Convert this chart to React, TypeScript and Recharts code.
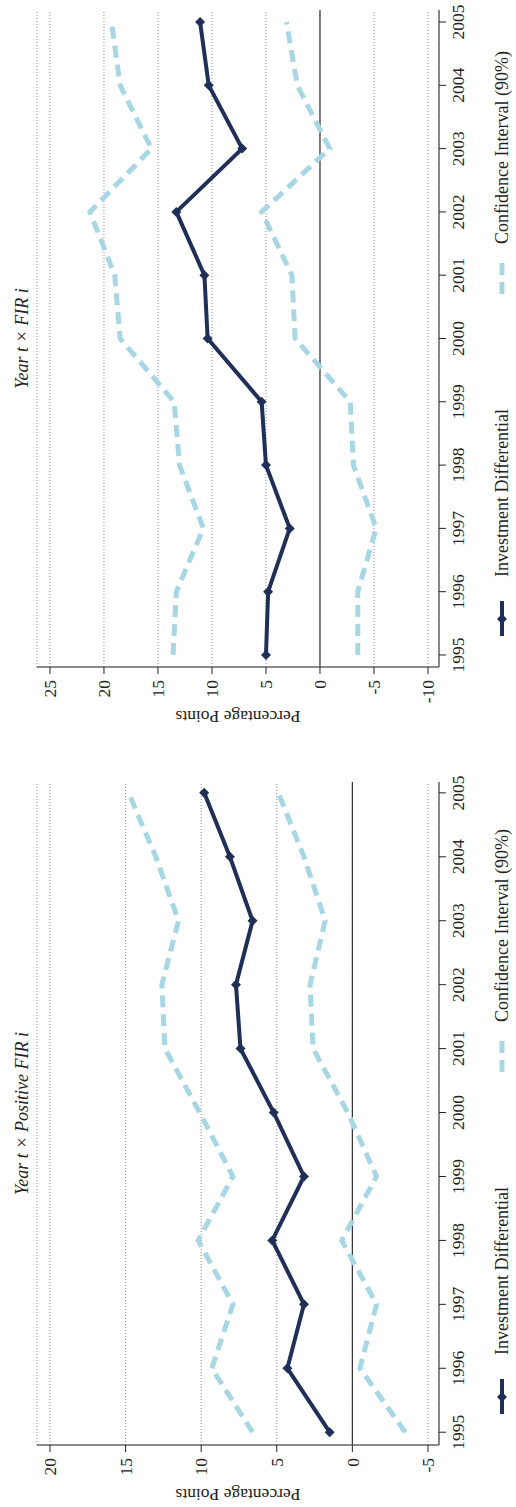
import { CartesianGrid, Line, LineChart, ReferenceLine, XAxis, YAxis } from "recharts";

const years = [1995, 1996, 1997, 1998, 1999, 2000, 2001, 2002, 2003, 2004, 2005];

// Year t x Positive FIR i
const posDiff = [1.5, 4.3, 3.2, 5.3, 3.2, 5.2, 7.4, 7.7, 6.6, 8.1, 9.8];
const posUpper = [6.6, 9.3, 7.9, 10.2, 7.9, 10.1, 12.4, 12.6, 11.5, 13.0, 14.8];
const posLower = [-3.5, -0.5, -1.6, 0.7, -1.6, 0.3, 2.6, 2.8, 1.8, 3.2, 4.9];
const posTicks = [-5, 0, 5, 10, 15, 20];

// Year t x FIR i
const firDiff = [5.0, 4.8, 2.8, 5.0, 5.4, 10.4, 10.7, 13.3, 7.2, 10.3, 11.1];
const firUpper = [13.6, 13.3, 10.8, 13.0, 13.5, 18.5, 19.0, 21.3, 15.6, 18.5, 19.3];
const firLower = [-3.5, -3.5, -5.2, -3.1, -2.8, 2.3, 2.6, 5.4, -0.9, 2.1, 3.1];
const firTicks = [-10, -5, 0, 5, 10, 15, 20, 25];

const legendLabels = ["Investment Differential", "Confidence Interval (90%)"];

const NAVY = "#1f2f57";
const LIGHT = "#a8d7e4";
const FONT = '"Liberation Serif", "DejaVu Serif", serif';
const H = 516;

const Diamond = (props: any) => {
  const { cx, cy, index } = props;
  if (cx == null || cy == null) return null;
  const r = 5;
  return (
    <polygon
      key={`dm-${index}`}
      points={`${cx},${cy - r} ${cx + r},${cy} ${cx},${cy + r} ${cx - r},${cy}`}
      fill={NAVY}
    />
  );
};

type PanelProps = {
  title: string;
  diff: number[];
  upper: number[];
  lower: number[];
  ticks: number[];
  yDomain: [number, number];
  xDomain: [number, number];
  left: number;
  width: number;
  plotLeft: number;
  plotRight: number;
};

function Panel({ title, diff, upper, lower, ticks, yDomain, xDomain, left, width, plotLeft, plotRight }: PanelProps) {
  const rows = years.map((year, i) => ({ year, diff: diff[i], upper: upper[i], lower: lower[i] }));
  const tickStyle = { fill: "#222", fontSize: 17.5, fontFamily: FONT };
  return (
    <div style={{ position: "absolute", left, top: 0, width, height: H }}>
      <LineChart
        width={width}
        height={H}
        data={rows}
        margin={{ top: 37, right: width - plotRight, bottom: 0, left: 0 }}
      >
        <CartesianGrid vertical={false} stroke="#8c8c8c" strokeDasharray="1 2" />
        <XAxis
          dataKey="year"
          type="number"
          domain={xDomain}
          ticks={years}
          interval={0}
          allowDataOverflow
          height={77}
          tickSize={7}
          tickMargin={6}
          axisLine={{ stroke: "#666", strokeWidth: 1.5 }}
          tickLine={{ stroke: "#222" }}
          tick={tickStyle}
        />
        <YAxis
          type="number"
          domain={yDomain}
          ticks={ticks}
          interval={0}
          allowDataOverflow
          width={plotLeft}
          tickSize={7}
          tickMargin={6}
          axisLine={{ stroke: "#666", strokeWidth: 1.5 }}
          tickLine={{ stroke: "#222" }}
          tick={tickStyle}
          label={{
            content: (p: any) => {
              const vb = p.viewBox || { x: 0, y: 37, width: plotLeft, height: 402 };
              const x = vb.x + vb.width - 50;
              const y = vb.y + vb.height / 2;
              return (
                <text
                  x={x}
                  y={y}
                  transform={`rotate(-90 ${x} ${y})`}
                  textAnchor="middle"
                  dominantBaseline="central"
                  fontSize={17.5}
                  fontFamily={FONT}
                  fill="#222"
                >
                  Percentage Points
                </text>
              );
            }
          }}
        />
        <ReferenceLine y={0} stroke="#333" strokeWidth={1.2} />
        <Line
          type="linear"
          dataKey="upper"
          stroke={LIGHT}
          strokeWidth={5}
          strokeDasharray="12 7"
          dot={false}
          isAnimationActive={false}
        />
        <Line
          type="linear"
          dataKey="lower"
          stroke={LIGHT}
          strokeWidth={5}
          strokeDasharray="12 7"
          dot={false}
          isAnimationActive={false}
        />
        <Line
          type="linear"
          dataKey="diff"
          stroke={NAVY}
          strokeWidth={4}
          dot={Diamond}
          isAnimationActive={false}
        />
      </LineChart>
      <svg
        width={width}
        height={H}
        style={{ position: "absolute", left: 0, top: 0, pointerEvents: "none" }}
      >
        <text
          x={(plotLeft + plotRight) / 2}
          y={28}
          textAnchor="middle"
          fontSize={18}
          fontStyle="italic"
          fontFamily={FONT}
          fill="#222"
        >
          {title}
        </text>
        <line x1={plotLeft + 31} x2={plotLeft + 66} y1={502} y2={502} stroke={NAVY} strokeWidth={4} />
        <polygon
          points={`${plotLeft + 48},497 ${plotLeft + 53},502 ${plotLeft + 48},507 ${plotLeft + 43},502`}
          fill={NAVY}
        />
        <text x={plotLeft + 90} y={508} fontSize={18} fontFamily={FONT} fill="#222">
          {legendLabels[0]}
        </text>
        <line
          x1={plotLeft + 373}
          x2={plotLeft + 411}
          y1={502}
          y2={502}
          stroke={LIGHT}
          strokeWidth={5}
          strokeDasharray="12 7"
        />
        <text x={plotLeft + 423} y={508} fontSize={18} fontFamily={FONT} fill="#222">
          {legendLabels[1]}
        </text>
      </svg>
    </div>
  );
}

export default function App() {
  return (
    <div
      style={{
        position: "fixed",
        left: 0,
        top: 0,
        width: 516,
        height: 1507,
        overflow: "hidden",
        background: "#fff"
      }}
    >
      <div
        style={{
          position: "absolute",
          left: 0,
          top: 0,
          width: 1507,
          height: H,
          transformOrigin: "0 0",
          transform: "translate(0px, 1507px) rotate(-90deg)"
        }}
      >
        <Panel
          title="Year t × Positive FIR i"
          diff={posDiff}
          upper={posUpper}
          lower={posLower}
          ticks={posTicks}
          yDomain={[-5.73, 20.86]}
          xDomain={[1994.8, 2005.17]}
          left={0}
          width={753}
          plotLeft={62}
          plotRight={725}
        />
        <Panel
          title="Year t × FIR i"
          diff={firDiff}
          upper={firUpper}
          lower={firLower}
          ticks={firTicks}
          yDomain={[-11.02, 26.2]}
          xDomain={[1994.81, 2005.19]}
          left={753}
          width={754}
          plotLeft={87}
          plotRight={744}
        />
      </div>
    </div>
  );
}
